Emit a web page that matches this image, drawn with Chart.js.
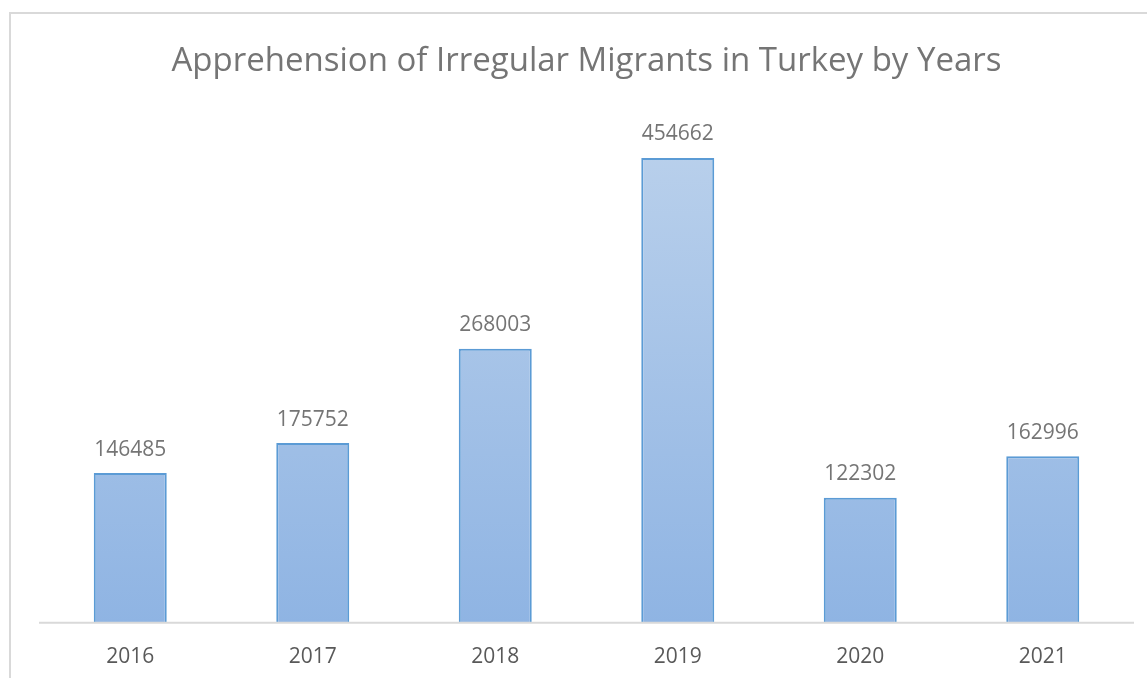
<!DOCTYPE html>
<html>
<head>
<meta charset="utf-8">
<script src="https://cdn.jsdelivr.net/npm/chart.js@4.4.1/dist/chart.umd.min.js"></script>
<style>
  html, body { margin: 0; padding: 0; background: #fff; overflow: hidden; }
  #frame { position: absolute; left: 9px; top: 12px; width: 1160px; height: 700px; border: 2px solid #d9d9d9; }
  #wrap { position: absolute; left: 0; top: 0; width: 1147px; height: 678px; overflow: hidden; }
</style>
</head>
<body>
<div id="frame"></div>
<div id="wrap"><canvas id="chart" width="1147" height="684"></canvas></div>
<script>
var years = ['2016', '2017', '2018', '2019', '2020', '2021'];
var apprehensions = [146485, 175752, 268003, 454662, 122302, 162996];

var barLabels = {
    id: 'barLabels',
    afterDatasetsDraw: function (chart) {
        var ctx = chart.ctx;
        var area = chart.chartArea;
        ctx.save();
        // baseline
        ctx.strokeStyle = '#d9d9d9';
        ctx.lineWidth = 2;
        ctx.beginPath();
        ctx.moveTo(area.left, area.bottom);
        ctx.lineTo(area.right, area.bottom);
        ctx.stroke();
        // value labels
        ctx.font = '21px "Open Sans", sans-serif';
        ctx.fillStyle = '#757575';
        ctx.textAlign = 'center';
        ctx.textBaseline = 'bottom';
        chart.getDatasetMeta(0).data.forEach(function (bar, i) {
            ctx.fillText(String(apprehensions[i]), bar.x, bar.y - 13);
        });
        ctx.restore();
    }
};

var ctx = document.getElementById('chart').getContext('2d');
var chart = new Chart(ctx, {
    type: 'bar',
    data: {
        labels: years,
        datasets: [{
            data: apprehensions,
            backgroundColor: function (c) {
                var area = c.chart.chartArea;
                if (!area) return '#a3c1e6';
                var g = c.chart.ctx.createLinearGradient(0, area.top, 0, area.bottom);
                g.addColorStop(0, '#bcd2ec');
                g.addColorStop(1, '#8fb4e3');
                return g;
            },
            borderColor: '#5b9bd5',
            borderWidth: 2,
            borderSkipped: 'bottom',
            barPercentage: 0.4,
            categoryPercentage: 1
        }]
    },
    options: {
        responsive: false,
        animation: false,
        layout: { padding: { left: 39, right: 13, top: 13, bottom: 0 } },
        plugins: {
            legend: { display: false },
            tooltip: { enabled: false },
            title: {
                display: true,
                text: 'Apprehension of Irregular Migrants in Turkey by Years',
                color: '#757575',
                font: { family: '"Open Sans", sans-serif', size: 33, weight: 'normal' },
                padding: { top: 29, bottom: 30 }
            }
        },
        scales: {
            x: {
                grid: { display: false },
                border: { display: false },
                ticks: {
                    color: '#595959',
                    font: { family: '"Open Sans", sans-serif', size: 21 },
                    padding: 14
                }
            },
            y: {
                display: false,
                min: 0,
                max: 500000
            }
        }
    },
    plugins: [barLabels]
});
</script>
</body>
</html>
